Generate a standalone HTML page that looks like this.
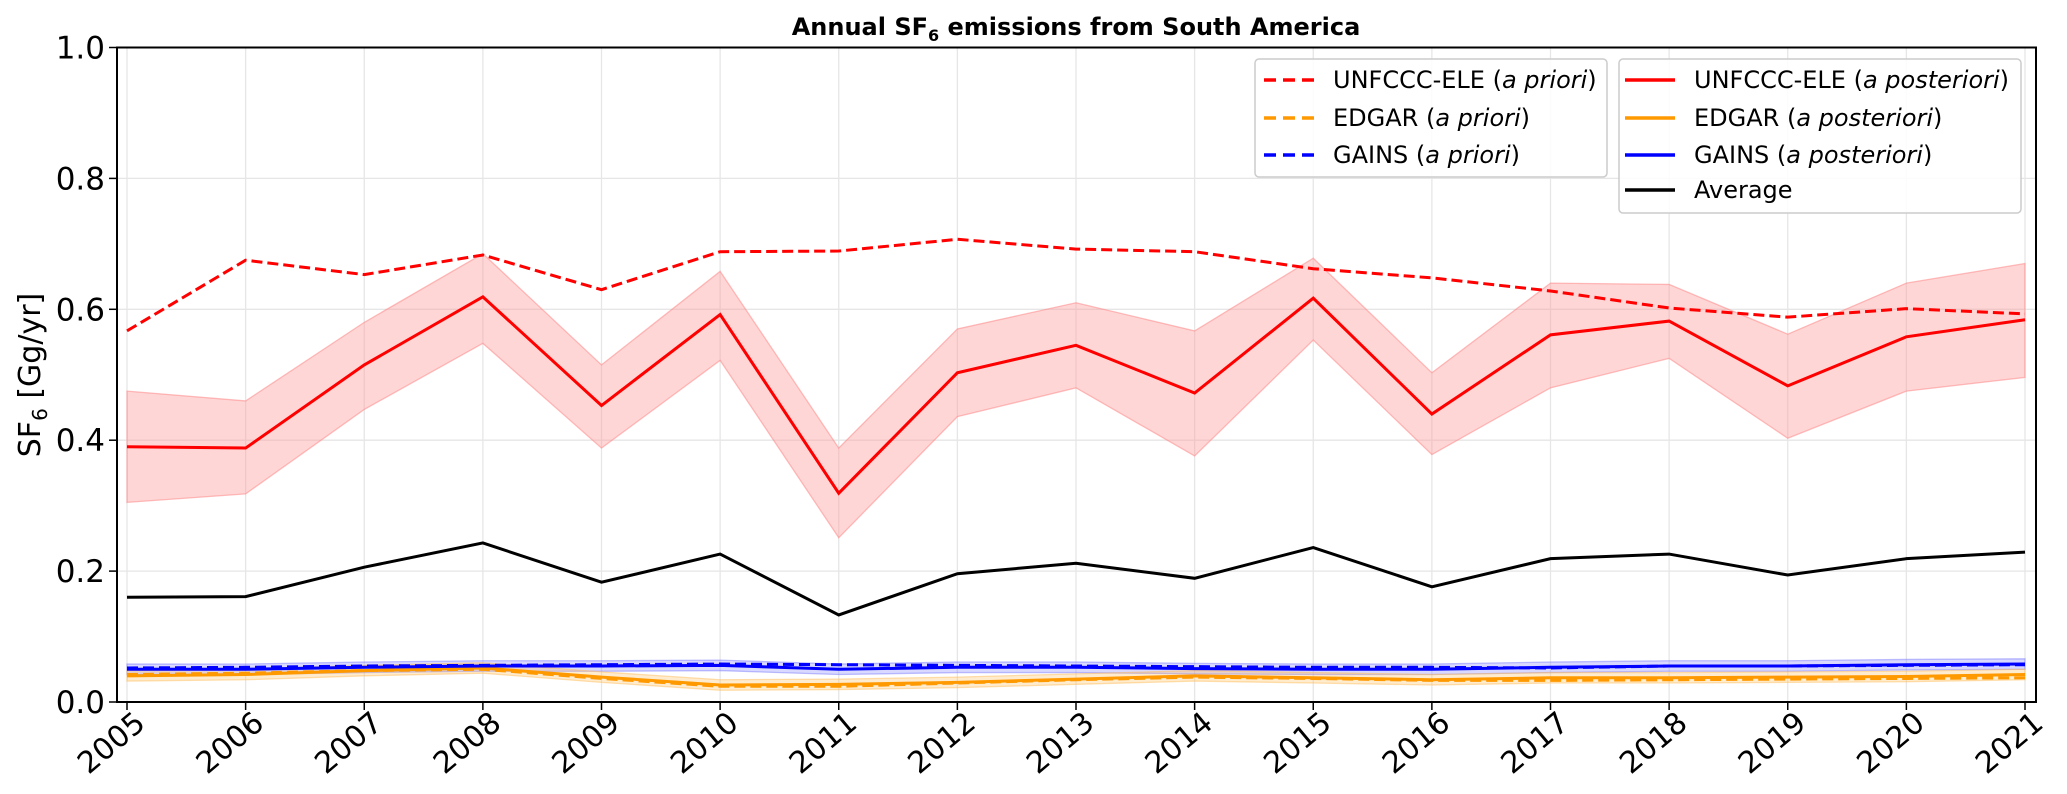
<!DOCTYPE html>
<html><head><meta charset="utf-8"><style>
html,body{margin:0;padding:0;background:#fff;}
svg{display:block;font-family:"DejaVu Sans","Liberation Sans",sans-serif;}
</style></head><body>
<svg id="chart" width="2067" height="794" viewBox="0 0 2067 794" xmlns="http://www.w3.org/2000/svg">
<text x="1076" y="35" text-anchor="middle" font-size="24" font-weight="bold">Annual SF<tspan font-size="16" dy="6">6</tspan><tspan dy="-6"> emissions from South America</tspan></text>
<g id="grid"></g>
<g id="bands"></g>
<g id="lines"></g>
<rect x="117" y="47.5" width="1919" height="654.5" fill="none" stroke="#000" stroke-width="2"/>
<g id="ticks"></g>
<text transform="translate(40,375) rotate(-90)" text-anchor="middle" font-size="30">SF<tspan font-size="20" dy="7">6</tspan><tspan dy="-7"> [Gg/yr]</tspan></text>
<g id="legend"></g>
</svg>
<script>
const years=[2005,2006,2007,2008,2009,2010,2011,2012,2013,2014,2015,2016,2017,2018,2019,2020,2021];
const yTicks=[0.0,0.2,0.4,0.6,0.8,1.0];
const uncPrior=[0.567,0.675,0.653,0.683,0.630,0.688,0.689,0.707,0.692,0.688,0.662,0.648,0.628,0.602,0.588,0.601,0.593];
const uncPost=[0.390,0.388,0.515,0.619,0.453,0.592,0.319,0.503,0.545,0.472,0.617,0.440,0.561,0.582,0.483,0.558,0.584];
const uncUpper=[0.475,0.460,0.580,0.685,0.515,0.658,0.388,0.570,0.610,0.567,0.678,0.503,0.640,0.638,0.562,0.640,0.670];
const uncLower=[0.305,0.318,0.447,0.548,0.388,0.522,0.251,0.436,0.480,0.376,0.553,0.378,0.480,0.525,0.403,0.475,0.496];
const average=[0.160,0.161,0.206,0.243,0.183,0.226,0.133,0.196,0.212,0.189,0.236,0.176,0.219,0.226,0.194,0.219,0.229];
const gainsPrior=[0.052,0.053,0.055,0.056,0.057,0.058,0.057,0.056,0.055,0.054,0.053,0.053,0.052,0.055,0.055,0.056,0.057];
const gainsPost=[0.050,0.050,0.053,0.055,0.055,0.056,0.050,0.053,0.053,0.051,0.050,0.050,0.053,0.055,0.055,0.057,0.058];
const edgarPrior=[0.042,0.044,0.048,0.050,0.036,0.024,0.024,0.029,0.034,0.038,0.036,0.033,0.033,0.034,0.035,0.036,0.037];
const edgarPost=[0.040,0.042,0.048,0.052,0.038,0.026,0.027,0.030,0.035,0.040,0.037,0.034,0.037,0.037,0.038,0.039,0.042];
const smallBand=0.008;

const NS="http://www.w3.org/2000/svg";
const X0=127,X1=2025,Y0=702,Y1=47.5;
const xs=i=>X0+(X1-X0)*(years[i]-years[0])/(years[years.length-1]-years[0]);
const ys=v=>Y0-(Y0-Y1)*v/1.0;
function mk(tag,attrs,parent){const e=document.createElementNS(NS,tag);for(const k in attrs)e.setAttribute(k,attrs[k]);parent.appendChild(e);return e;}
const grid=document.getElementById('grid'),bands=document.getElementById('bands'),lines=document.getElementById('lines'),ticks=document.getElementById('ticks'),legend=document.getElementById('legend');

years.forEach((yr,i)=>{
 const x=xs(i);
 const g=mk('line',{x1:x,x2:x,y1:Y1,y2:Y0,stroke:'#e6e6e6','stroke-width':1.3},grid);
 
 
 const t=mk('line',{x1:x,x2:x,y1:Y0,y2:Y0+8,stroke:'#000','stroke-width':1.5},ticks);
 
 
 const l=mk('text',{x:0,y:0,'font-size':30,'text-anchor':'end',transform:`translate(${x+20},${Y0+24}) rotate(-40)`},ticks);
 l.textContent=yr;
 
 
});
yTicks.forEach(v=>{
 const y=ys(v);
 const g=mk('line',{x1:X0-10,x2:X1+11,y1:y,y2:y,stroke:'#e6e6e6','stroke-width':1.3},grid);
 
 
 const t=mk('line',{x1:117-8,x2:117,y1:y,y2:y,stroke:'#000','stroke-width':1.5},ticks);
 
 
 const l=mk('text',{x:105,y:y+11,'font-size':31,'text-anchor':'end'},ticks);
 l.textContent=v.toFixed(1);
 
 
});
function band(up,lo,fill,op,stroke,name){
 let d='M'+up.map((v,i)=>xs(i)+','+ys(v)).join('L');
 for(let i=lo.length-1;i>=0;i--)d+='L'+xs(i)+','+ys(lo[i]);
 d+='Z';
 const p=mk('path',{d:d,fill:fill,'fill-opacity':op,stroke:stroke,'stroke-opacity':0.5,'stroke-width':1.3},bands);
 
 
}
band(uncUpper,uncLower,'#ff9999',0.4,'#ff8080','unfccc-uncertainty-band');
band(gainsPost.map(v=>v+smallBand),gainsPost.map(v=>v-smallBand),'#8080ff',0.3,'#8080ff','gains-uncertainty-band');
band(edgarPost.map(v=>v+smallBand),edgarPost.map(v=>v-smallBand),'#ffc060',0.3,'#ffc060','edgar-uncertainty-band');
function line(vals,color,dash,name){
 const p=mk('polyline',{points:vals.map((v,i)=>xs(i)+','+ys(v)).join(' '),fill:'none',stroke:color,'stroke-width':3,'stroke-linejoin':'miter'},lines);
 if(dash)p.setAttribute('stroke-dasharray','11,5');
 
 
}
line(uncPrior,'#ff0000',true,'unfccc-prior-line');
line(uncPost,'#ff0000',false,'unfccc-posterior-line');
line(average,'#000000',false,'average-line');
line(edgarPost,'#ff9900',false,'edgar-posterior-line');
line(edgarPrior,'#ff9900',true,'edgar-prior-line');
line(gainsPost,'#0000ff',false,'gains-posterior-line');
line(gainsPrior,'#0000ff',true,'gains-prior-line');

const b1=mk('rect',{x:1255,y:59,width:352,height:118,rx:4,fill:'#fff','fill-opacity':0.85,stroke:'#ccc','stroke-width':1.5},legend);


const b2=mk('rect',{x:1619,y:59,width:402,height:154,rx:4,fill:'#fff','fill-opacity':0.85,stroke:'#ccc','stroke-width':1.5},legend);


const entries=[
 [1264,80,'#ff0000',true,'UNFCCC-ELE','a priori'],
 [1264,118,'#ff9900',true,'EDGAR','a priori'],
 [1264,155,'#0000ff',true,'GAINS','a priori'],
 [1625,80,'#ff0000',false,'UNFCCC-ELE','a posteriori'],
 [1625,118,'#ff9900',false,'EDGAR','a posteriori'],
 [1625,155,'#0000ff',false,'GAINS','a posteriori'],
 [1625,190,'#000000',false,'Average','']
];
entries.forEach(e=>{
 const g=mk('g',{},legend);
 
 
 const ln=mk('line',{x1:e[0],x2:e[0]+50,y1:e[1],y2:e[1],stroke:e[2],'stroke-width':3.5},g);
 if(e[3])ln.setAttribute('stroke-dasharray','12,7');
 const t=mk('text',{x:e[0]+69,y:e[1]+8,'font-size':24},g);
 t.textContent=e[4];
 if(e[5]){
  const s1=mk('tspan',{},t);s1.textContent=' (';
  const s2=mk('tspan',{'font-style':'italic'},t);s2.textContent=e[5];
  const s3=mk('tspan',{},t);s3.textContent=')';
 }
});
</script>
</body></html>
